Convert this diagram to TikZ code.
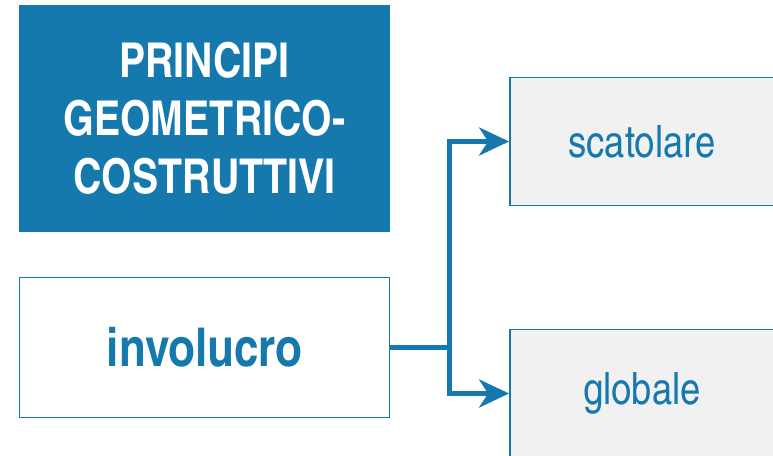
\documentclass[tikz,border=0pt]{standalone}
\usepackage{fontspec}
\setmainfont{texgyreheroscn}[Extension=.otf,UprightFont=*-regular,BoldFont=*-bold]
\usetikzlibrary{arrows.meta,positioning}
\definecolor{bluprincipi}{RGB}{21,121,173}
\definecolor{grigiobox}{RGB}{241,241,241}

\begin{document}
\begin{tikzpicture}[x=1pt,y=1pt]
    \tikzstyle{titolo}=[rectangle, fill=bluprincipi, text=white, align=center,
      minimum width=371pt, minimum height=227pt, inner sep=0pt,
      font=\bfseries\fontsize{48}{58}\selectfont]
    \tikzstyle{radice}=[rectangle, draw=bluprincipi, line width=1.8pt, fill=white,
      text=bluprincipi, minimum width=370pt, minimum height=140pt, inner sep=0pt,
      font=\bfseries\fontsize{53.5}{60}\selectfont]
    \tikzstyle{foglia}=[rectangle, draw=bluprincipi, line width=1.8pt, fill=grigiobox,
      text=bluprincipi, minimum width=264pt, minimum height=128pt, inner sep=0pt,
      font=\fontsize{44.5}{50}\selectfont]
    \tikzstyle{freccia}=[draw=bluprincipi, line width=5pt,
      -{Stealth[length=30pt, width=28pt, inset=9pt]}]

    \useasboundingbox (0,0) rectangle (773,455);
    \clip (0,0) rectangle (773,455);

    \node [titolo] (principi) at (204.5,336.5) {PRINCIPI\\GEOMETRICO-\\COSTRUTTIVI};
    \node [radice] (involucro) at (204.5,107.5) {involucro};
    \node [foglia] (scatolare) at (642,313.5) {scatolare};
    \node [foglia] (globale) at (642,61.5) {globale};

    \coordinate (bivio) at (449,107.5);
    \draw [bluprincipi, line width=5.5pt] (involucro.east) -- (bivio);
    \path [freccia] (bivio) |- (scatolare.west);
    \path [freccia] (bivio) |- (globale.west);
  \end{tikzpicture}
\end{document}
